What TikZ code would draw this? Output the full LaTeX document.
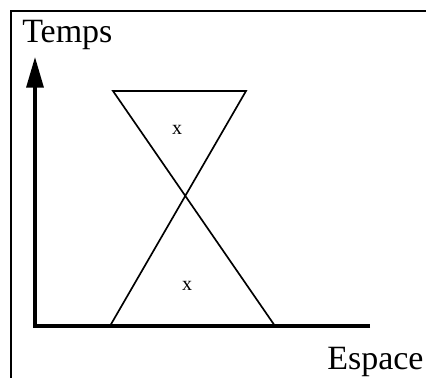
\documentclass[tikz,border=0pt]{standalone}
\usepackage{fontspec}
\setmainfont{Liberation Serif}
\usepackage{tikz}
\usetikzlibrary{arrows.meta,positioning,calc}
\definecolor{ink}{RGB}{0,0,0}
\tikzset{
  frame/.style={draw=ink,line width=1.5pt},
  axis/.style={draw=ink,line width=2.3pt,-{Triangle[length=23pt,width=12.8pt]}},
  cone/.style={draw=ink,line width=1.25pt},
  lab/.style={inner sep=0pt,font=\fontsize{25.5}{29}\selectfont},
  event/.style={inner sep=0pt,font=\fontsize{15}{18}\selectfont},
}

\begin{document}
\begin{tikzpicture}[x=0.75pt,y=-0.75pt]
  \useasboundingbox (0,0) rectangle (426,378);
  % open frame round the picture
  \coordinate (fb) at (11,378);
  \coordinate (fc) at (11,11);
  \coordinate (fr) at (426,11);
  \draw[frame] (fb) -- (fc) -- (fr);
  % axes
  \coordinate (o) at (35,326);
  \coordinate (xend) at (370,326);
  \coordinate (tend) at (35,57);
  \draw[axis] (xend) -- (o) -- (tend);
  \node[lab,anchor=base west] (temps) at (22,43) {Temps};
  \node[lab,anchor=base west] (espace) at (327,370) {Espace};
  % light cones, past and future
  \coordinate (tl) at (113,91);
  \coordinate (tr) at (246,91);
  \coordinate (bl) at (110,326);
  \coordinate (br) at (275,326);
  \draw[cone] (bl) -- (tr) -- (tl) -- (br);
  \node[event] (xup) at (177,130) {x};
  \node[event] (xdown) at (187,286) {x};
\end{tikzpicture}
\end{document}
